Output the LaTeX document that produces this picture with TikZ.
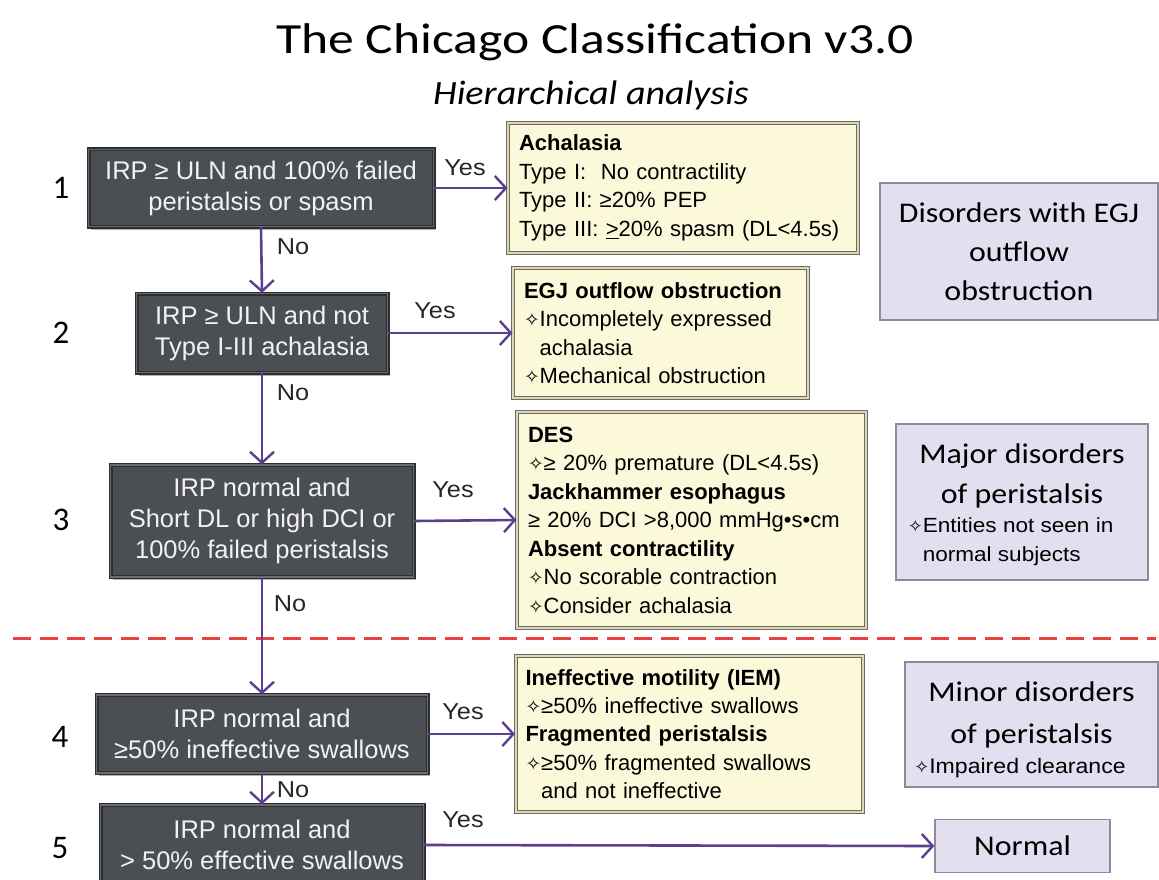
\documentclass[tikz,border=0pt]{standalone}
\usepackage{fontspec}
\usepackage{graphicx}
\setmainfont{Liberation Sans}
\newfontfamily\titlefont{Carlito}[FakeStretch=1.2]
\newfontfamily\purpfont{Carlito}[FakeStretch=1.12]
\newfontfamily\numfont{Carlito}
\newfontfamily\labfont{Liberation Sans}[FakeStretch=1.1]
\newfontfamily\symfont{DejaVu Sans}
\newcommand\dstar{{\symfont\scalebox{0.85}{✧}}}
\usetikzlibrary{arrows.meta,shadows}
\definecolor{dkfill}{HTML}{4B4F54}
\definecolor{dkedge}{HTML}{2C2E31}
\definecolor{dkinner}{HTML}{6A6E73}
\definecolor{dktext}{HTML}{F2F2F2}
\definecolor{yfill}{HTML}{FCF9DA}
\definecolor{yedge}{HTML}{6E6B60}
\definecolor{yinner}{HTML}{DCD7B8}
\definecolor{pfill}{HTML}{E4DFF0}
\definecolor{pedge}{HTML}{8E8A99}
\definecolor{arrowc}{HTML}{5C3F8E}
\definecolor{labc}{HTML}{262626}
\definecolor{redc}{HTML}{E8413F}
\begin{document}
\begin{tikzpicture}[x=1pt,y=-1pt,
  darkbox/.style={rectangle, fill=dkfill, draw=dkedge, line width=1.2pt,
    double=dkinner, double distance=1.6pt, text=dktext, align=center,
    inner sep=0pt, font=\fontsize{25.5}{31}\selectfont,
    drop shadow={shadow xshift=2pt, shadow yshift=-3pt, opacity=0.3, fill=black}},
  ybox/.style={rectangle, fill=yfill, draw=yedge, line width=1pt,
    double=yinner, double distance=2pt, text=black, align=left,
    inner xsep=11pt, inner ysep=0pt, font=\fontsize{22}{28.5}\selectfont},
  pbox/.style={rectangle, fill=pfill, draw=pedge, line width=1.2pt,
    text=black, align=center, inner sep=0pt},
  phead/.style={align=center, inner sep=0pt, text=black},
  psub/.style={align=left, inner sep=0pt, text=black},
  flow/.style={draw=arrowc, line width=2.6pt,
    -{Straight Barb[length=11pt,width=24pt,line width=2.4pt]}},
  lab/.style={text=labc, font=\labfont\fontsize{23}{26}\selectfont, inner sep=0pt},
  num/.style={text=black, font=\numfont\fontsize{33}{36}\selectfont, inner sep=0pt},
]
\useasboundingbox (0,0) rectangle (1159,880);
\fill[white] (0,0) rectangle (1159,880);

% title
\node[font=\titlefont\fontsize{43}{48}\selectfont, inner sep=0pt] (title) at (595,42) {The Chicago Classification v3.0};
\node[font=\purpfont\itshape\fontsize{34}{40}\selectfont, inner sep=0pt] (subtitle) at (591,95) {Hierarchical analysis};

% red dashed separator
\coordinate (dl1) at (13,638);
\coordinate (dl2) at (1156,638);
\draw[redc, line width=3pt, dash pattern=on 18pt off 9pt] (dl1) -- (dl2);

% decision boxes
\node[darkbox, minimum width=345pt, minimum height=77pt] (b1) at (261,188) {IRP ≥ ULN and 100\% failed\\peristalsis or spasm};
\node[darkbox, minimum width=251pt, minimum height=79pt] (b2) at (262,333) {IRP ≥ ULN and not\\Type I-III achalasia};
\node[darkbox, minimum width=303pt, minimum height=112pt] (b3) at (262,521) {IRP normal and\\Short DL or high DCI or\\100\% failed peristalsis};
\node[darkbox, minimum width=331pt, minimum height=78pt] (b4) at (262,734) {IRP normal and\\≥50\% ineffective swallows};
\node[darkbox, minimum width=323pt, minimum height=80pt] (b5) at (262,845) {IRP normal and\\> 50\% effective swallows};

% step numbers
\node[num] (n1) at (61,188) {1};
\node[num] (n2) at (61,333) {2};
\node[num] (n3) at (61,520) {3};
\node[num] (n4) at (60,737) {4};
\node[num] (n5) at (60,848) {5};

% yellow result boxes
\node[ybox, text width=328pt, minimum height=130pt] (ach) at (683,188)
 {{\bfseries Achalasia}\\
  Type I:\ \ No contractility\\
  Type II: ≥20\% PEP\\
  Type III: \underline{>}20\% spasm (DL<4.5s)};
\node[ybox, text width=273pt, minimum height=130pt] (egj) at (660.5,333)
 {{\bfseries EGJ outflow obstruction}\\
  \dstar Incompletely expressed\\
  \phantom{\dstar}achalasia\\
  \dstar Mechanical obstruction};
\node[ybox, text width=327pt, minimum height=216pt] (des) at (691.5,520)
 {{\bfseries DES}\\
  \dstar≥ 20\% premature (DL<4.5s)\\
  {\bfseries Jackhammer esophagus}\\
  ≥ 20\% DCI >8,000 mmHg•s•cm\\
  {\bfseries Absent contractility}\\
  \dstar No scorable contraction\\
  \dstar Consider achalasia};
\node[ybox, font=\fontsize{22}{28.3}\selectfont, inner xsep=10pt, text width=327pt, minimum height=156pt] (iem) at (689,734)
 {{\bfseries Ineffective motility (IEM)}\\
  \dstar≥50\% ineffective swallows\\
  {\bfseries Fragmented peristalsis}\\
  \dstar≥50\% fragmented swallows\\
  \phantom{\dstar}and not ineffective};

% purple category boxes
\node[pbox, minimum width=278pt, minimum height=137pt, font=\purpfont\fontsize{28.5}{39}\selectfont] (pa) at (1019,251.5)
 {Disorders with EGJ\\outflow\\obstruction};
\node[pbox, minimum width=252pt, minimum height=156pt] (pb) at (1022,502) {};
\node[phead, font=\purpfont\fontsize{28.5}{40}\selectfont] (pbh) at (1022,476) {Major disorders\\of peristalsis};
\node[psub, font=\labfont\fontsize{20.5}{29}\selectfont, anchor=west] (pbs) at (908,541.5) {\dstar Entities not seen in\\\phantom{\dstar}normal subjects};
\node[pbox, minimum width=253pt, minimum height=125pt] (pc) at (1031.5,724.5) {};
\node[phead, font=\purpfont\fontsize{28.5}{42}\selectfont] (pch) at (1031.5,715) {Minor disorders\\of peristalsis};
\node[psub, font=\labfont\fontsize{21}{26}\selectfont] (pcs) at (1020,768) {\dstar Impaired clearance};
\node[pbox, minimum width=175pt, minimum height=53pt, font=\purpfont\fontsize{28.5}{34}\selectfont] (pn) at (1022.5,846) {Normal};

% No arrows
\draw[flow] (b1.south) -- (b2.north);
\draw[flow] (b2.south) -- (b3.north);
\draw[flow] (b3.south) -- (b4.north);
\draw[flow] (b4.south) -- (b5.north);
% Yes arrows
\draw[flow] (b1.east) -- (ach.west);
\draw[flow] (b2.east) -- (egj.west);
\draw[flow] (b3.east) -- (des.west);
\draw[flow] (b4.east) -- (iem.west);
\draw[flow] (b5.east) -- (pn.west);

% labels
\node[lab] (no1) at (293,247) {No};
\node[lab] (no2) at (293,393) {No};
\node[lab] (no3) at (290,604) {No};
\node[lab] (no4) at (293,790) {No};
\node[lab] (yes1) at (465,168) {Yes};
\node[lab] (yes2) at (435,311) {Yes};
\node[lab] (yes3) at (453,490) {Yes};
\node[lab] (yes4) at (463,712) {Yes};
\node[lab] (yes5) at (463,820) {Yes};
\end{tikzpicture}
\end{document}
